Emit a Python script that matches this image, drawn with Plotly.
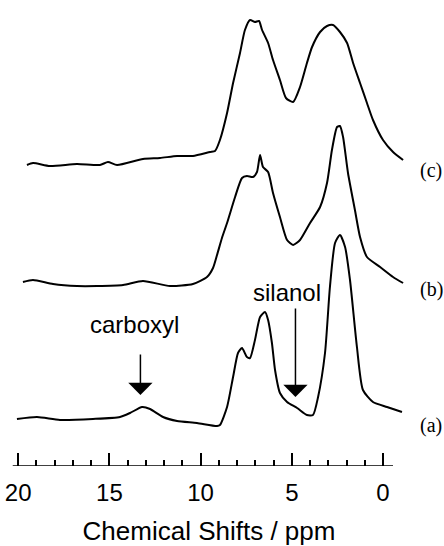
import plotly.graph_objects as go

# Chemical shift (ppm) and intensity above each trace's own baseline
ppm_a = [20.07, 18.97, 17.71, 15.90, 14.42, 13.87, 13.21, 12.77, 12.06, 11.29, 10.20,
         9.10, 8.94, 8.55, 8.22, 7.95, 7.73, 7.46, 7.29, 7.02, 6.74, 6.47, 6.30, 6.09,
         5.92, 5.65, 5.26, 4.71, 4.17, 3.84, 3.56, 3.18, 2.91, 2.63, 2.36, 2.08, 1.81,
         1.43, 1.10, 0.55, -0.22, -1.04]
int_a = [1, 3, 0, 1, 3, 7, 13, 11, 3, -1, -3,
         -6, -5, 13, 43, 67, 72, 63, 62, 80, 103, 108, 100, 77,
         50, 27, 18, 12, 5, 5, 23, 67, 133, 177, 185, 173, 140,
         73, 30, 18, 13, 8]

ppm_b = [19.74, 19.19, 18.09, 16.78, 15.68, 14.25, 13.16, 11.68, 10.42, 9.65, 9.32,
         9.10, 8.83, 8.55, 8.11, 7.73, 7.46, 7.13, 6.91, 6.74, 6.58, 6.30, 6.03, 5.65,
         5.26, 4.93, 4.55, 4.00, 3.45, 3.07, 2.80, 2.52, 2.36, 2.19, 1.92, 1.54, 1.26,
         0.88, 0.16, -0.55, -1.10]
int_b = [2, 4, 0, -2, -2, -1, 3, -2, 0, 7, 16,
         29, 46, 61, 87, 106, 108, 107, 112, 129, 117, 112, 91, 67,
         44, 39, 44, 61, 77, 101, 134, 157, 158, 147, 111, 74, 47,
         27, 17, 7, 1]

ppm_c = [19.52, 19.19, 18.26, 16.78, 15.52, 15.08, 14.58, 13.16, 12.23, 11.29, 10.42,
         9.48, 9.21, 8.94, 8.55, 8.22, 7.84, 7.57, 7.29, 7.02, 6.80, 6.63, 6.30, 6.03,
         5.65, 5.32, 4.93, 4.55, 4.17, 3.89, 3.45, 3.07, 2.74, 2.36, 1.97, 1.64, 1.26,
         0.88, 0.55, 0.00, -0.55, -1.10]
int_c = [0, 2, -1, 1, 0, 3, 0, 6, 7, 9, 9,
         13, 14, 25, 52, 82, 112, 135, 145, 143, 144, 135, 122, 105,
         85, 67, 63, 78, 102, 118, 133, 139, 140, 133, 122, 102, 82,
         62, 45, 25, 13, 5]

# Vertical stacking offsets of the three spectra
offsets = {"a": 46, "b": 182, "c": 301}

major_ticks = [0, 5, 10, 15, 20]
minor_ticks = [v for v in range(0, 21) if v % 5 != 0]

# Annotated resonances
carboxyl_ppm = 13.3
silanol_ppm = 4.8

fig = go.Figure()
for ppm, inten, key in [(ppm_a, int_a, "a"), (ppm_b, int_b, "b"), (ppm_c, int_c, "c")]:
    fig.add_trace(go.Scatter(
        x=ppm, y=[v + offsets[key] for v in inten], mode="lines",
        line=dict(color="black", width=2, shape="spline", smoothing=0.6),
        hoverinfo="skip", showlegend=False))

# Axis baseline spanning the labelled ppm range
fig.add_shape(type="line", xref="x", yref="y", x0=20.3, x1=-0.55, y0=0, y1=0,
              line=dict(color="black", width=1.5))

# Spectrum labels on the right
for key in ["a", "b", "c"]:
    fig.add_annotation(text=f"({key})", xref="paper", yref="y", x=1.0,
                       xanchor="left", xshift=10,
                       y=offsets[key] - 5, showarrow=False,
                       font=dict(family="Liberation Serif", size=20, color="black"))

# Peak assignments with arrows
fig.add_annotation(text="carboxyl", x=13.6, y=142, showarrow=False,
                   font=dict(family="Liberation Sans", size=24, color="black"))
fig.add_annotation(x=carboxyl_ppm, y=offsets["a"] + 25, ax=0, ay=-42, text="",
                   showarrow=True, arrowhead=1, arrowsize=2.7, arrowwidth=1.5,
                   arrowcolor="black")
fig.add_annotation(text="silanol", x=5.24, y=174, showarrow=False,
                   font=dict(family="Liberation Sans", size=24, color="black"))
fig.add_annotation(x=silanol_ppm, y=offsets["a"] + 23, ax=0, ay=-90, text="",
                   showarrow=True, arrowhead=1, arrowsize=2.7, arrowwidth=1.5,
                   arrowcolor="black")

fig.update_layout(
    width=444, height=546,
    margin=dict(l=10, r=36, t=0, b=80),
    paper_bgcolor="white", plot_bgcolor="white",
    xaxis=dict(
        range=[20.45, -1.37], showgrid=False, zeroline=False, showline=False,
        tickmode="array", tickvals=major_ticks, ticktext=[str(v) for v in major_ticks],
        ticks="inside", ticklen=13, tickwidth=1.5, tickcolor="black",
        tickfont=dict(family="Liberation Sans", size=24, color="black"),
        ticklabelstandoff=10,
        minor=dict(tickvals=minor_ticks, ticks="inside", ticklen=6, tickwidth=1.5,
                   tickcolor="black", showgrid=False),
        title=dict(text="Chemical Shifts / ppm", standoff=17,
                   font=dict(family="Liberation Sans", size=26, color="black")),
    ),
    yaxis=dict(range=[0, 466], visible=False),
)

fig.write_html("out.html", config={"displayModeBar": False})
